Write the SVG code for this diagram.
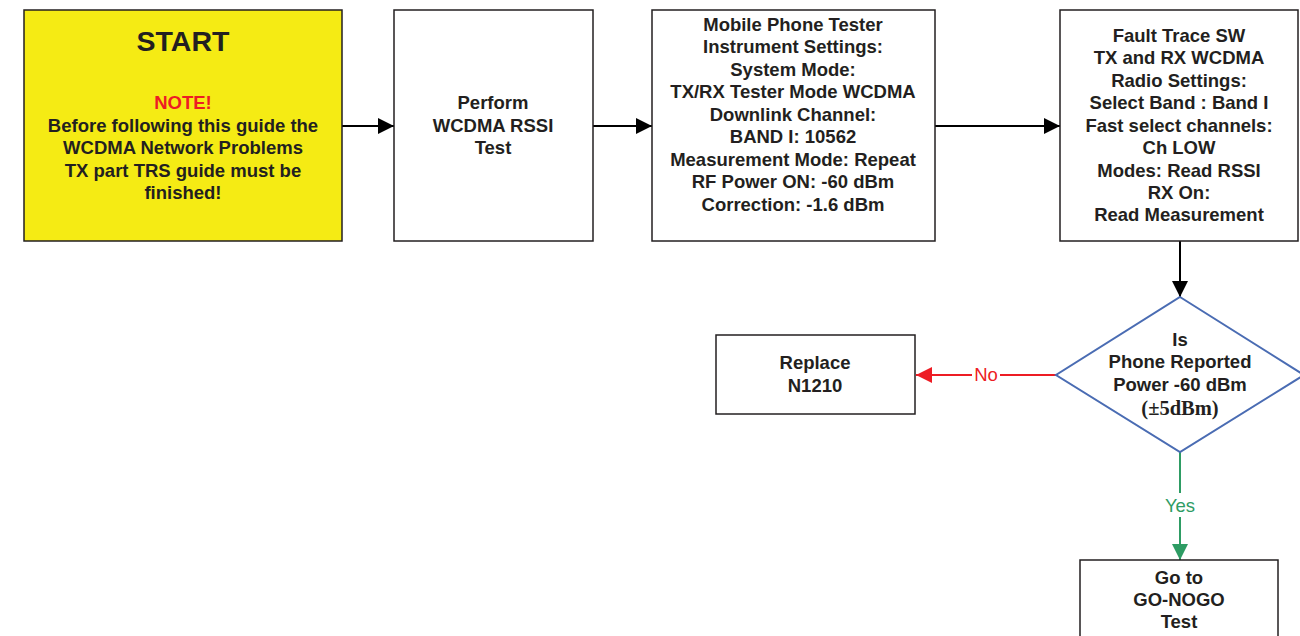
<svg xmlns="http://www.w3.org/2000/svg" width="1300" height="636" viewBox="0 0 1300 636">
<style>
.box{fill:#fff;stroke:#231f20;stroke-width:1.5}
.t{font-family:"Liberation Sans",Arial,sans-serif;font-weight:bold;font-size:18.5px;fill:#231f20;text-anchor:middle}
.lbl{font-family:"Liberation Sans",Arial,sans-serif;font-size:18.5px;text-anchor:middle}
</style>
<defs>
<marker id="ak" viewBox="0 0 10 10" refX="10" refY="5" markerWidth="18" markerHeight="16" markerUnits="userSpaceOnUse" orient="auto"><path d="M0,0L10,5L0,10z" fill="#000"/></marker>
<marker id="ar" viewBox="0 0 10 10" refX="10" refY="5" markerWidth="18" markerHeight="16" markerUnits="userSpaceOnUse" orient="auto"><path d="M0,0L10,5L0,10z" fill="#ed1c24"/></marker>
<marker id="ag" viewBox="0 0 10 10" refX="10" refY="5" markerWidth="18" markerHeight="16" markerUnits="userSpaceOnUse" orient="auto"><path d="M0,0L10,5L0,10z" fill="#2e9c64"/></marker>
</defs>
<g id="connectors">
<line x1="342" y1="126" x2="394" y2="126" stroke="#000" stroke-width="2" marker-end="url(#ak)"/>
<line x1="593" y1="126" x2="652" y2="126" stroke="#000" stroke-width="2" marker-end="url(#ak)"/>
<line x1="935" y1="126" x2="1060" y2="126" stroke="#000" stroke-width="2" marker-end="url(#ak)"/>
<line x1="1180" y1="241" x2="1180" y2="297" stroke="#000" stroke-width="2" marker-end="url(#ak)"/>
<line x1="1056" y1="375" x2="916" y2="375" stroke="#ed1c24" stroke-width="2" marker-end="url(#ar)"/>
<rect x="972" y="363" width="28" height="22" fill="#fff"/>
<text class="lbl" x="986" y="381" fill="#ed1c24">No</text>
<line x1="1180" y1="452" x2="1180" y2="560" stroke="#2e9c64" stroke-width="2" marker-end="url(#ag)"/>
<rect x="1161" y="493" width="38" height="24" fill="#fff"/>
<text class="lbl" x="1180" y="512" fill="#2e9c64">Yes</text>
</g>
<g id="start">
<rect x="24" y="10" width="318" height="231" fill="#f5eb14" stroke="#231f20" stroke-width="1.5"/>
<text class="t" x="183" y="51" style="font-size:28.5px">START</text>
<text class="t" x="183" y="109" style="fill:#ed1c24">NOTE!</text>
<text class="t" x="183" y="132">Before following this guide the</text>
<text class="t" x="183" y="154">WCDMA Network Problems</text>
<text class="t" x="183" y="177">TX part TRS guide must be</text>
<text class="t" x="183" y="199">finished!</text>
</g>
<g id="perform">
<rect class="box" x="394" y="10" width="199" height="231"/>
<text class="t" x="493" y="109">Perform</text>
<text class="t" x="493" y="132">WCDMA RSSI</text>
<text class="t" x="493" y="154">Test</text>
</g>
<g id="mobile">
<rect class="box" x="652" y="10" width="283" height="231"/>
<text class="t" x="793" y="31">Mobile Phone Tester</text>
<text class="t" x="793" y="53">Instrument Settings:</text>
<text class="t" x="793" y="76">System Mode:</text>
<text class="t" x="793" y="98">TX/RX Tester Mode WCDMA</text>
<text class="t" x="793" y="121">Downlink Channel:</text>
<text class="t" x="793" y="143">BAND I: 10562</text>
<text class="t" x="793" y="166">Measurement Mode: Repeat</text>
<text class="t" x="793" y="188">RF Power ON: -60 dBm</text>
<text class="t" x="793" y="211">Correction: -1.6 dBm</text>
</g>
<g id="fault">
<rect class="box" x="1060" y="10" width="238" height="231"/>
<text class="t" x="1179" y="42">Fault Trace SW</text>
<text class="t" x="1179" y="64">TX and RX WCDMA</text>
<text class="t" x="1179" y="87">Radio Settings:</text>
<text class="t" x="1179" y="109">Select Band : Band I</text>
<text class="t" x="1179" y="132">Fast select channels:</text>
<text class="t" x="1179" y="154">Ch LOW</text>
<text class="t" x="1179" y="177">Modes: Read RSSI</text>
<text class="t" x="1179" y="199">RX On:</text>
<text class="t" x="1179" y="221">Read Measurement</text>
</g>
<g id="decision">
<polygon points="1180,297 1304,375 1180,452 1056,375" fill="#fff" stroke="#4a6cb3" stroke-width="2"/>
<text class="t" x="1180" y="346">Is</text>
<text class="t" x="1180" y="368">Phone Reported</text>
<text class="t" x="1180" y="391">Power -60 dBm</text>
<text class="t" x="1180" y="415" style="font-family:'Liberation Serif','Times New Roman',serif;font-size:20.5px">(±5dBm)</text>
</g>
<g id="replace">
<rect class="box" x="716" y="335" width="199" height="79"/>
<text class="t" x="815" y="369">Replace</text>
<text class="t" x="815" y="392">N1210</text>
</g>
<g id="gonogo">
<rect class="box" x="1080" y="560" width="198" height="90"/>
<text class="t" x="1179" y="584">Go to</text>
<text class="t" x="1179" y="606">GO-NOGO</text>
<text class="t" x="1179" y="628">Test</text>
</g>
</svg>
